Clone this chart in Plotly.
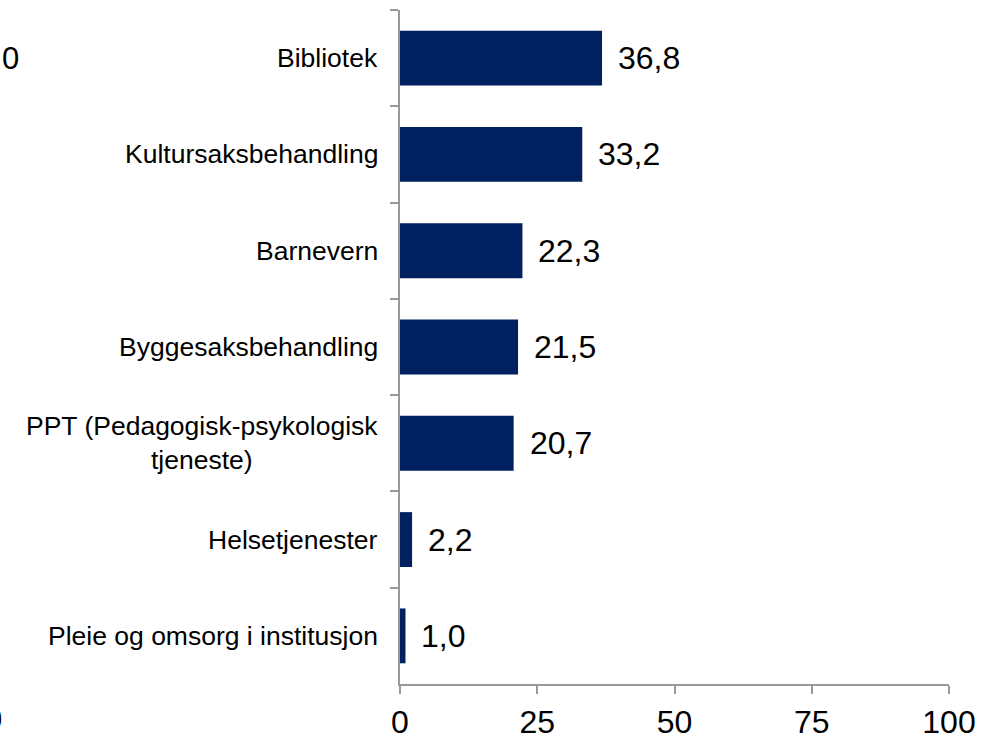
import plotly.graph_objects as go

categories = ["Bibliotek", "Kultursaksbehandling", "Barnevern", "Byggesaksbehandling",
              "PPT (Pedagogisk-psykologisk<br>tjeneste)", "Helsetjenester",
              "Pleie og omsorg i institusjon"]
values = [36.8, 33.2, 22.3, 21.5, 20.7, 2.2, 1.0]
value_labels = ["36,8", "33,2", "22,3", "21,5", "20,7", "2,2", "1,0"]
x_ticks = [0, 25, 50, 75, 100]

fig = go.Figure()
fig.add_trace(go.Bar(
    x=values, y=categories, orientation="h",
    marker=dict(color="#002060", line=dict(width=0)),
    hoverinfo="skip",
))

annotations = []
for c, v, t in zip(categories, values, value_labels):
    annotations.append(dict(x=v, y=c, xref="x", yref="y", text=t, showarrow=False,
                            xanchor="left", yanchor="middle", xshift=14,
                            font=dict(size=32, color="#000000")))
    annotations.append(dict(x=0, y=c, xref="paper", yref="y", text=c, showarrow=False,
                            xanchor="right", yanchor="middle", xshift=-20, align="center",
                            font=dict(size=26.5, color="#000000")))
# stray labels from neighbouring chart edge
annotations.append(dict(x=-0.710, y=0.928, xref="paper", yref="paper", text="0", showarrow=False,
                        xanchor="center", yanchor="middle", font=dict(size=31, color="#000000")))
annotations.append(dict(x=-0.741, y=-0.0534, xref="paper", yref="paper", text="0", showarrow=False,
                        xanchor="center", yanchor="middle", font=dict(size=31, color="#000000")))

fig.update_layout(
    width=996, height=739,
    margin=dict(l=400, r=47, t=10, b=55, autoexpand=False),
    paper_bgcolor="white", plot_bgcolor="white",
    font=dict(family="Liberation Sans, Arial, sans-serif", color="#000000"),
    bargap=0.43,
    showlegend=False,
    annotations=annotations,
    xaxis=dict(range=[0, 100], tickvals=x_ticks, ticktext=[str(v) for v in x_ticks],
               showgrid=False, zeroline=False, showline=True, linecolor="#999999", linewidth=2,
               ticks="outside", ticklen=8, tickwidth=2, tickcolor="#999999",
               ticklabelstandoff=1, tickfont=dict(size=32), fixedrange=True),
    yaxis=dict(autorange="reversed", type="category", showgrid=False, showline=True,
               linecolor="#999999", linewidth=2, ticks="outside", ticklen=8, tickwidth=2,
               tickcolor="#999999", tickson="boundaries", showticklabels=False,
               fixedrange=True),
)

fig.write_html("out.html", config={"displayModeBar": False},
               post_script="document.body.style.margin='0';document.body.style.overflow='hidden';")
